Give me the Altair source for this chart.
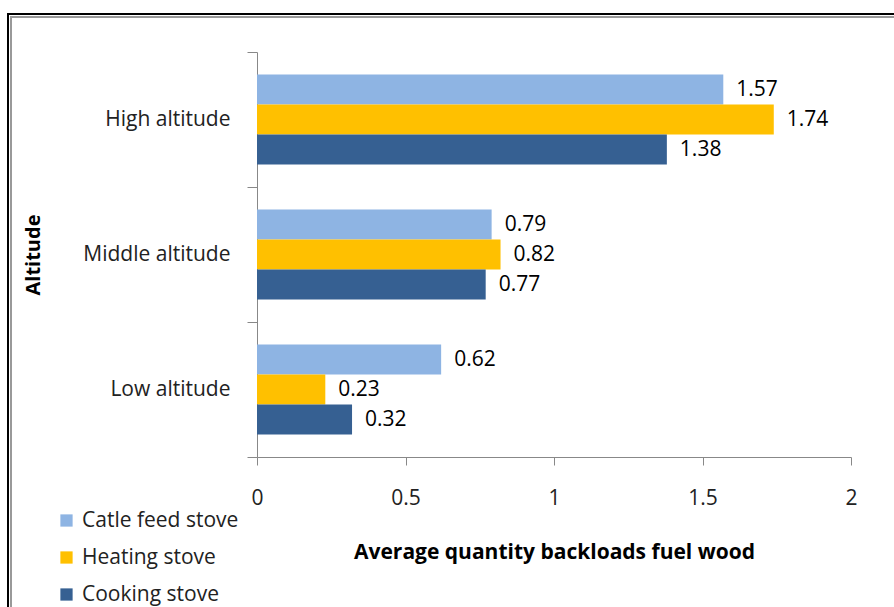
import altair as alt
import pandas as pd

altitudes = ["High altitude", "Middle altitude", "Low altitude"]
stoves = ["Catle feed stove", "Heating stove", "Cooking stove"]
catle_feed = [1.57, 0.79, 0.62]
heating = [1.74, 0.82, 0.23]
cooking = [1.38, 0.77, 0.32]
colors = ["#8EB4E3", "#FFC000", "#366092"]
x_ticks = [0, 0.5, 1, 1.5, 2]

rows = []
for s, vals in zip(stoves, [catle_feed, heating, cooking]):
    for a, v in zip(altitudes, vals):
        rows.append({"Altitude": a, "Stove": s, "Value": v})
df = pd.DataFrame(rows)

FONT = "Open Sans"
W, H = 594, 405

y_enc = alt.Y("Altitude:N", sort=altitudes,
              scale=alt.Scale(paddingInner=0, paddingOuter=0),
              axis=alt.Axis(title="Altitude", titleFont=FONT, titleFontSize=20,
                            titleFontWeight="bold", titleColor="black",
                            titleX=-224, titleY=H/2, titleAngle=-90,
                            titleBaseline="middle", titleAlign="center",
                            labelFont=FONT, labelFontSize=21, labelColor="#222",
                            labelPadding=17, tickBand="extent", tickSize=10,
                            tickColor="#888", domainColor="#888", grid=False))
x_enc = alt.X("Value:Q", scale=alt.Scale(domain=[0, 2], nice=False),
              axis=alt.Axis(values=x_ticks, title="Average quantity backloads fuel wood",
                            titleFont=FONT, titleFontSize=21, titleFontWeight="bold",
                            titleColor="black", titleY=95, titleBaseline="middle",
                            labelFont=FONT, labelFontSize=21, labelColor="#222",
                            labelPadding=22, labelFlush=False, tickSize=8,
                            tickColor="#888", domainColor="#888", grid=False,
                            format="~g"))
yoff = alt.YOffset("Stove:N", sort=stoves,
                   scale=alt.Scale(domain=stoves, paddingInner=0, paddingOuter=0.75))

bars = alt.Chart(df).mark_bar().encode(
    x=x_enc, y=y_enc, yOffset=yoff,
    color=alt.Color("Stove:N", sort=stoves,
                    scale=alt.Scale(domain=stoves, range=colors),
                    legend=alt.Legend(title=None, orient="none", legendX=-201, legendY=458,
                                      symbolType="square", symbolSize=150,
                                      symbolStrokeWidth=0, labelFont=FONT,
                                      labelFontSize=21, labelColor="#222",
                                      rowPadding=15, labelOffset=5)),
)

labels = alt.Chart(df).mark_text(align="left", baseline="middle", dx=13,
                                 font=FONT, fontSize=21, color="black").encode(
    x="Value:Q", y=alt.Y("Altitude:N", sort=altitudes), yOffset=yoff,
    text=alt.Text("Value:Q", format=".2f"),
)

frame_outer = alt.Chart(pd.DataFrame({"a": [0]})).mark_rect(
    fill=None, stroke="black", strokeWidth=2, clip=False).encode(
    x=alt.value(8 - 257), x2=alt.value(960 - 257),
    y=alt.value(14 - 52), y2=alt.value(660 - 52))
frame_inner = alt.Chart(pd.DataFrame({"a": [0]})).mark_rect(
    fill=None, stroke="#999", strokeWidth=2, clip=False).encode(
    x=alt.value(11 - 257), x2=alt.value(960 - 257),
    y=alt.value(17 - 52), y2=alt.value(660 - 52))

chart = alt.layer(frame_outer, frame_inner, bars, labels).properties(
    width=W, height=H,
    padding={"left": 257, "top": 52, "right": 43, "bottom": 150},
    autosize=alt.AutoSizeParams(type="none"),
    background="white",
).configure_view(stroke=None)

chart.save("out.html", embed_options={"renderer": "svg", "actions": False})
